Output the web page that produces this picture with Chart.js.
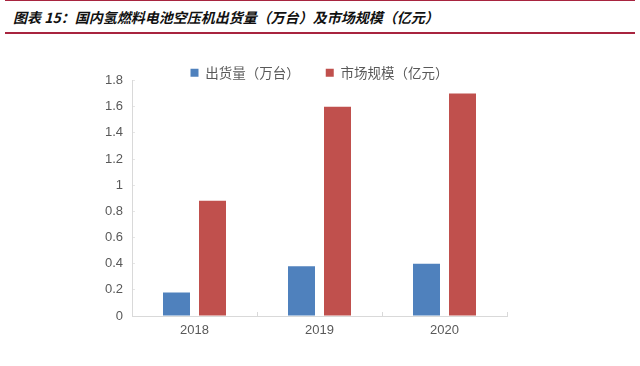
<!DOCTYPE html>
<html>
<head>
<meta charset="utf-8">
<script src="https://cdn.jsdelivr.net/npm/chart.js@4"></script>
<style>
  html, body { margin: 0; padding: 0; background: #fff; }
  #wrap { position: relative; width: 640px; height: 366px; overflow: hidden; }
  #topLine { position: absolute; left: 5px; right: 5px; top: 0; height: 1px; background: #a8243f; }
  #title {
    position: absolute; left: 13px; top: 7px;
    font: italic bold 14px "Noto Sans CJK SC", sans-serif;
    color: #111; white-space: nowrap; line-height: 20px;
  }
  #bottomLine { position: absolute; left: 5px; right: 5px; top: 32px; height: 2px; background: #a8243f; }
  #chartBox { position: absolute; left: 0; top: 0; width: 640px; height: 366px; }
</style>
</head>
<body>
<div id="wrap">
  <div id="topLine"></div>
  <div id="title">图表 15：国内氢燃料电池空压机出货量（万台）及市场规模（亿元）</div>
  <div id="bottomLine"></div>
  <div id="chartBox"><canvas id="barChart" width="640" height="366"></canvas></div>
</div>
<script>
const years = ["2018", "2019", "2020"];
const shipments = [0.18, 0.38, 0.40];
const marketSize = [0.88, 1.60, 1.70];
const seriesNames = ["出货量（万台）", "市场规模（亿元）"];

document.addEventListener("DOMContentLoaded", () => {
  initBarChart();
});

// legend: less height than Chart.js reserves, centred over the plot area
const legendTweak = {
  id: "legendTweak",
  beforeInit(chart) {
    const fit = chart.legend.fit;
    chart.legend.fit = function () {
      fit.call(this);
      this.height -= 9;
    };
  },
  afterLayout(chart) {
    chart.legend.left = chart.chartArea.left;
    chart.legend.right = chart.chartArea.right;
  }
};

function initBarChart() {
  const el = document.getElementById("barChart");
  if (!el) return;

  const axisFont = { family: "'Liberation Sans', Arial, sans-serif", size: 13 };

  new Chart(el, {
    type: "bar",
    data: {
      labels: years,
      datasets: [{
        label: seriesNames[0],
        data: shipments,
        backgroundColor: "#4f81bd"
      }, {
        label: seriesNames[1],
        data: marketSize,
        backgroundColor: "#c0504d"
      }]
    },
    plugins: [legendTweak],
    options: {
      responsive: false,
      animation: false,
      devicePixelRatio: 1,
      categoryPercentage: 0.576,
      barPercentage: 0.75,
      layout: { padding: { top: 40, right: 133, bottom: 0, left: 0 } },
      plugins: {
        tooltip: { enabled: false },
        legend: {
          position: "top",
          labels: {
            boxWidth: 8,
            boxHeight: 8,
            padding: 26,
            color: "#595959",
            font: { family: "'Noto Sans CJK SC', sans-serif", size: 13.5 }
          }
        }
      },
      scales: {
        x: {
          grid: { drawOnChartArea: false, tickLength: -4, color: "#d9d9d9" },
          border: { color: "#d9d9d9" },
          ticks: {
            color: "#595959",
            padding: 11,
            maxRotation: 0,
            font: axisFont
          },
          afterFit: s => { s.height = 50; }
        },
        y: {
          min: 0,
          max: 1.8,
          grid: { drawOnChartArea: false, tickLength: -3, color: "#e6e6e6" },
          border: { color: "#d9d9d9" },
          ticks: {
            stepSize: 0.2,
            color: "#595959",
            padding: 12,
            font: axisFont,
            callback: v => String(Number(v.toFixed(1)))
          },
          afterFit: s => { s.width = 132; }
        }
      }
    }
  });
}
</script>
</body>
</html>
